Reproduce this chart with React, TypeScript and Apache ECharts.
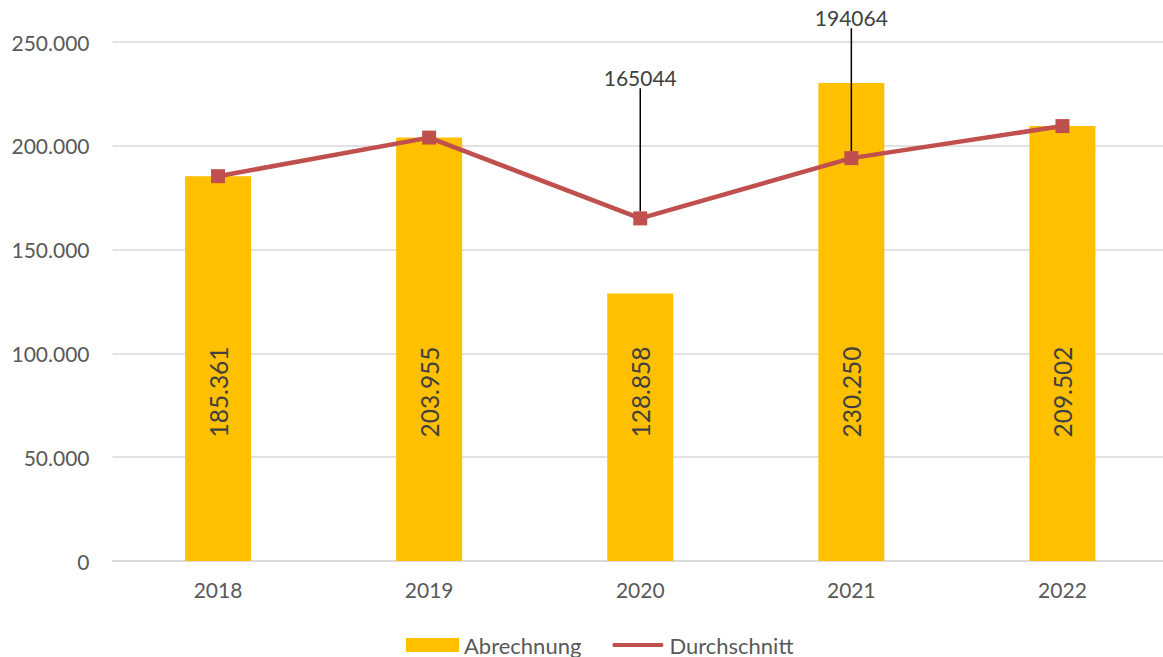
import React, { useEffect, useRef } from "react";
import * as echarts from "echarts";

const categories = ["2018", "2019", "2020", "2021", "2022"];
const abrechnung = [185361, 203955, 128858, 230250, 209502];
const durchschnitt = [185361, 203955, 165044, 194064, 209502];
const labelledPoints = [2, 3];
const yTicks = { min: 0, max: 250000, interval: 50000 };

const FONT = "Lato, 'Open Sans', sans-serif";

function de(v: number): string {
  return String(Math.round(v)).replace(/\B(?=(\d{3})+(?!\d))/g, ".");
}

export default function App() {
  const ref = useRef<HTMLDivElement>(null);
  useEffect(() => {
    if (!ref.current) return;
    document.body.style.overflow = "hidden";
    const chart = echarts.init(ref.current, undefined, { renderer: "svg" });
    chart.setOption({
      animation: false,
      textStyle: { fontFamily: FONT },
      grid: { left: 112.5, right: 0, top: 42, bottom: 96, containLabel: false },
      legend: {
        top: 634,
        left: 406,
        padding: 0,
        itemWidth: 53,
        itemHeight: 14,
        itemGap: 30,
        textStyle: { fontSize: 22, lineHeight: 22, color: "#595959", fontFamily: FONT },
        data: [
          { name: "Abrechnung", icon: "rect" },
          {
            name: "Durchschnitt",
            icon: "path://M0,0 M53,14 M2,5 L51,5 Q53,7 51,9 L2,9 Q0,7 2,5 Z",
            itemStyle: { color: "#C0504D" },
          },
        ],
      },
      xAxis: {
        type: "category",
        data: categories,
        axisLine: { lineStyle: { color: "#D9D9D9", width: 1.5 } },
        axisTick: { show: false },
        axisLabel: { fontSize: 21, color: "#595959", margin: 18, fontFamily: FONT },
      },
      yAxis: {
        type: "value",
        min: yTicks.min,
        max: yTicks.max,
        interval: yTicks.interval,
        axisLine: { show: false },
        axisTick: { show: false },
        splitLine: { lineStyle: { color: "#D9D9D9", width: 1.5 } },
        axisLabel: {
          fontSize: 21,
          color: "#595959",
          margin: 23,
          fontFamily: FONT,
          formatter: (v: number) => de(v),
        },
      },
      series: [
        {
          name: "Abrechnung",
          type: "bar",
          data: abrechnung,
          barWidth: 66,
          itemStyle: { color: "#FFC000" },
          label: {
            show: true,
            position: "insideBottom",
            distance: 169,
            rotate: 90,
            align: "center",
            verticalAlign: "middle",
            fontSize: 24.5,
            color: "#404040",
            fontFamily: FONT,
            formatter: (p: any) => de(p.value),
          },
        },
        {
          name: "Durchschnitt",
          type: "line",
          data: durchschnitt.map((v, i) =>
            labelledPoints.includes(i) ? { value: v, label: { show: true } } : v
          ),
          symbol: "rect",
          symbolSize: 14,
          lineStyle: { color: "#C0504D", width: 4.5 },
          itemStyle: { color: "#C0504D" },
          z: 5,
          label: {
            show: false,
            position: "top",
            fontSize: 21,
            color: "#404040",
            fontFamily: FONT,
          },
          labelLine: { show: true, lineStyle: { color: "#000000", width: 1.5 } },
          labelLayout: () => ({ dy: -118 }),
        },
      ],
    });
    return () => chart.dispose();
  }, []);
  return (
    <div
      ref={ref}
      style={{ position: "fixed", left: 0, top: 0, width: 1168, height: 657, background: "#fff" }}
    />
  );
}
